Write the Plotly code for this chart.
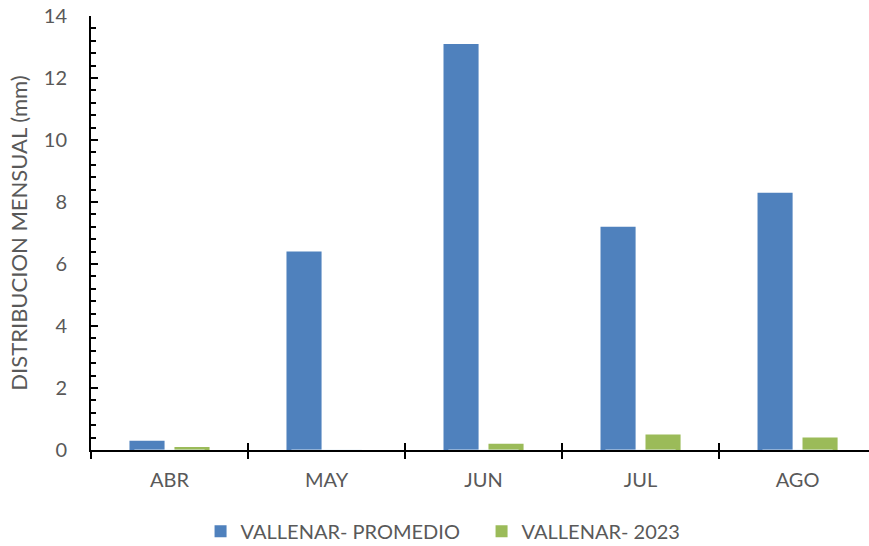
import plotly.graph_objects as go

months = ["ABR", "MAY", "JUN", "JUL", "AGO"]
promedio = [0.3, 6.4, 13.1, 7.2, 8.3]
y2023 = [0.1, 0.0, 0.2, 0.5, 0.4]
y_ticks = [0, 2, 4, 6, 8, 10, 12, 14]

FONT = "Lato"
GREY = "#595959"

fig = go.Figure()
fig.add_trace(go.Bar(x=months, y=promedio, name="VALLENAR- PROMEDIO",
                     marker=dict(color="#4F81BD", line=dict(width=0))))
fig.add_trace(go.Bar(x=months, y=y2023, name="VALLENAR- 2023",
                     marker=dict(color="#9BBB59", line=dict(width=0))))
# invisible trace for inside ticks on x axis (cross ticks)
fig.add_trace(go.Bar(x=months, y=[0]*len(months), xaxis="x2", showlegend=False,
                     marker=dict(color="rgba(0,0,0,0)"), hoverinfo="skip"))

xr = [-0.5, 4.455]
fig.update_layout(
    width=869, height=546,
    margin=dict(l=91, r=0, t=16, b=96, autoexpand=False),
    paper_bgcolor="white", plot_bgcolor="white",
    barmode="group", bargap=0.427, bargroupgap=0.22,
    font=dict(family=FONT, color=GREY, size=20),
    xaxis=dict(type="category", range=xr, showline=True, linecolor="black", linewidth=2,
               ticks="outside", tickson="boundaries", ticklen=7, tickwidth=2, tickcolor="black",
               tickfont=dict(size=20, color=GREY), showgrid=False, zeroline=False,
               ticklabelstandoff=11, automargin=False),
    xaxis2=dict(type="category", range=xr, overlaying="x", anchor="y", side="bottom",
                ticks="inside", tickson="boundaries", ticklen=7, tickwidth=2, tickcolor="black",
                showticklabels=False, showgrid=False, showline=False, zeroline=False,
                automargin=False),
    yaxis=dict(range=[0, 14], tickvals=y_ticks, showline=True, linecolor="black", linewidth=2,
               ticks="inside", ticklen=7, tickwidth=2, tickcolor="black",
               minor=dict(dtick=0.4, ticks="inside", ticklen=5, tickwidth=1.5, tickcolor="black"),
               showgrid=False, zeroline=False, tickfont=dict(size=20, color=GREY),
               ticklabelstandoff=18, automargin=False, ticklabeloverflow="allow",
               title=dict(text="DISTRIBUCION MENSUAL (mm)", font=dict(size=22, color=GREY), standoff=10)),
    legend=dict(orientation="h", x=0.502, xanchor="center", y=-0.187, yanchor="middle",
                font=dict(size=20, color=GREY), itemwidth=30, traceorder="normal",
                entrywidth=236),
)

fig.write_html("out.html", config={"displayModeBar": False},
               post_script="document.body.style.margin='0';document.body.style.padding='0';")
